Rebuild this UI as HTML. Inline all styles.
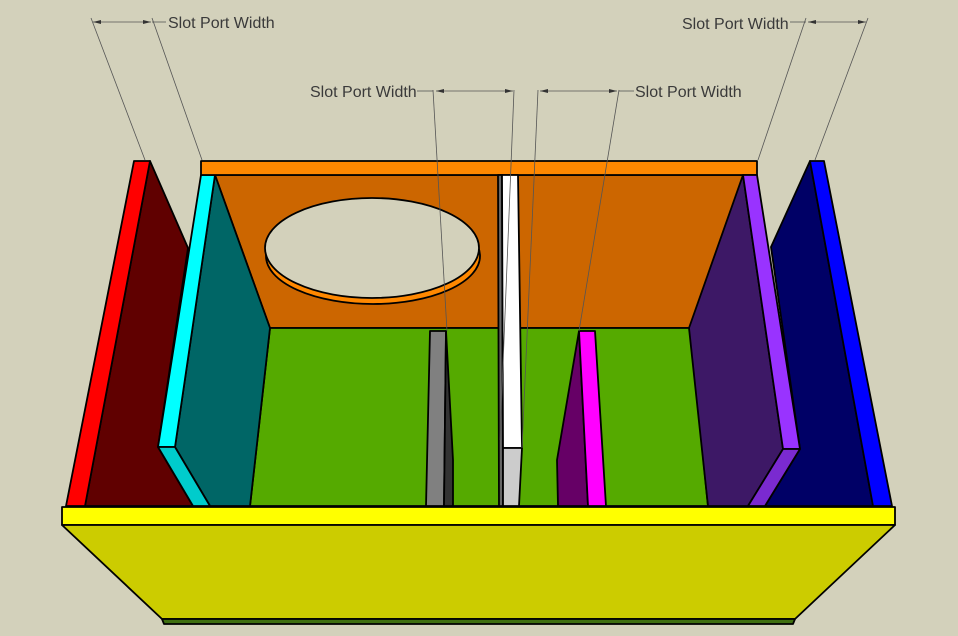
<!DOCTYPE html>
<html><head><meta charset="utf-8">
<style>
html,body{margin:0;padding:0;background:#d3d1bb;}
svg{display:block;}
text{font-family:"Liberation Sans",sans-serif;font-size:16px;fill:#3a3a3a;}
</style></head>
<body>
<svg width="958" height="636" viewBox="0 0 958 636" xmlns="http://www.w3.org/2000/svg">
<rect width="958" height="636" fill="#d3d1bb"/>
<g stroke="#000" stroke-width="1.8" stroke-linejoin="round">
<polygon points="215,175 745,175 690,328 270,328" fill="#cc6600"/>
<ellipse cx="373" cy="256" rx="107" ry="48" fill="#ff8800"/>
<ellipse cx="372" cy="248" rx="107" ry="50" fill="#d3d1bb"/>
<polygon points="270,328 690,328 708,506 250,506" fill="#55aa00"/>
<polygon points="150,161 188,248 158,447 193,506 85,506" fill="#600000"/>
<polygon points="134,161 150,161 85,506 66,506" fill="#ff0000"/>
<polygon points="215,175 270,328 250,506 210,506 175,447" fill="#006666"/>
<polygon points="201,175 215,175 175,447 158,447" fill="#00ffff"/>
<polygon points="158,447 175,447 210,506 193,506" fill="#00cccc"/>
<polygon points="201,161 757,161 757,175 201,175" fill="#ff8800"/>
<polygon points="810,161 771,247 800,449 765,506 873,506" fill="#000066"/>
<polygon points="810,161 824,161 892,506 873,506" fill="#0000ff"/>
<polygon points="743,175 689,328 708,506 748,506 783,449" fill="#3d1866"/>
<polygon points="743,175 757,175 800,449 783,449" fill="#9933ff"/>
<polygon points="783,449 800,449 765,506 748,506" fill="#7a2ad0"/>
<polygon points="430,331 446,331 444,506 426,506" fill="#808080"/>
<polygon points="446,331 453,460 453,506 444,506" fill="#333333"/>
<polygon points="498,175 502,175 503,506 499,506" fill="#666666"/>
<polygon points="502,175 518,175 522,448 503,448" fill="#ffffff"/>
<polygon points="503,448 522,448 519,506 503,506" fill="#cccccc"/>
<polygon points="579,331 588,506 558,506 557,460" fill="#660066"/>
<polygon points="579,331 595,331 606,506 588,506" fill="#ff00ff"/>
<polygon points="62,507 895,507 895,525 62,525" fill="#ffff00"/>
<polygon points="62,525 895,525 795,619 162,619" fill="#cccc00"/>
<polygon points="162,619 795,619 793,624 164,624" fill="#3f6f10"/>
</g>
<g stroke="#555" stroke-width="0.8" fill="none">
<line x1="91" y1="18" x2="145" y2="160"/>
<line x1="152" y1="18" x2="202" y2="160"/>
<line x1="93" y1="22" x2="151" y2="22"/>
<line x1="152" y1="22" x2="166" y2="22"/>
<line x1="868" y1="18" x2="815" y2="160"/>
<line x1="806" y1="18" x2="758" y2="160"/>
<line x1="808" y1="22" x2="866" y2="22"/>
<line x1="790" y1="22" x2="806" y2="22"/>
<line x1="433" y1="90" x2="447" y2="331"/>
<line x1="514" y1="90" x2="500" y2="440"/>
<line x1="436" y1="91" x2="513" y2="91"/>
<line x1="417" y1="91" x2="433" y2="91"/>
<line x1="538" y1="90" x2="522" y2="448"/>
<line x1="619" y1="90" x2="579" y2="331"/>
<line x1="540" y1="91" x2="617" y2="91"/>
<line x1="619" y1="91" x2="634" y2="91"/>
</g>
<g fill="#333">
<polygon points="93,22 101,20 101,24"/><polygon points="151,22 143,20 143,24"/>
<polygon points="808,22 816,20 816,24"/><polygon points="866,22 858,20 858,24"/>
<polygon points="436,91 444,89 444,93"/><polygon points="513,91 505,89 505,93"/>
<polygon points="540,91 548,89 548,93"/><polygon points="617,91 609,89 609,93"/>
</g>
<text x="168" y="28">Slot Port Width</text>
<text x="682" y="29">Slot Port Width</text>
<text x="310" y="97">Slot Port Width</text>
<text x="635" y="97">Slot Port Width</text>
</svg>
</body></html>
